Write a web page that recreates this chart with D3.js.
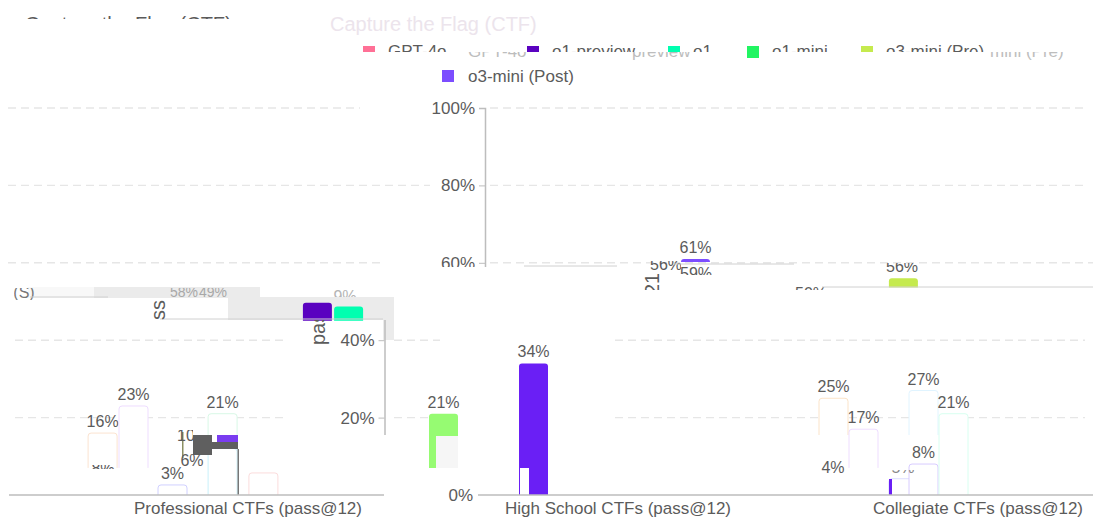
<!DOCTYPE html>
<html><head><meta charset="utf-8">
<script src="https://cdn.jsdelivr.net/npm/d3@7"></script>
<style>html,body{margin:0;padding:0;background:#fff}svg{display:block}text{font-family:"Liberation Sans",Arial,sans-serif}</style>
</head><body><svg id="c"></svg>
<script>
const categories = ["High School CTFs (pass@12)", "Collegiate CTFs (pass@12)", "Professional CTFs (pass@12)"];
const seriesNames = ["GPT-4o", "o1-preview", "o1", "o1-mini", "o3-mini (Pre)", "o3-mini (Post)"];
const seriesColors = ["#ff7096", "#5a02c0", "#00ffb0", "#21f562", "#c5ea4e", "#7c4dff"];
const ghostLegendText = ["GPT-4o", "preview", "mini (Pre)"];
const yTicks = [0, 20, 40, 60, 80, 100];
// solid bars: group index, slot inside the group, value, lowest visible value
const solidGroup = [0, 0, 0, 1, 2, 2];
const solidSlot  = [0, 3, 8.4, 3.33, 8.13, 9.17];
const solidValue = [21, 34, 61, 56, 49.7, 48.7];
const solidFloor = [7, 0, 60.2, 53.6, 45, 45];
const solidColor = ["#96fb72", "#6a1ff5", "#7c4dff", "#c5ea4e", "#5a02c0", "#00ffb0"];
const solidLabel = ["21%", "34%", "61%", "", "", ""];
// bars that survive only as a faint outline
const ghostGroup = [1, 1, 1, 1, 1, 1, 2, 2, 2, 2, 2, 2];
const ghostSlot  = [1, 2, 3.33, 4, 4, 5, 0.97, 2, 3.3, 4.97, 4.97, 6.33];
const ghostValue = [25, 17, 4.2, 27, 8, 21, 16, 23, 2.6, 21, 12, 5.7];
const ghostFloor = [15.5, 7, 0, 15.5, 0, 0, 7, 7, 0, 15.5, 0, 0];
const ghostColor = ["#fbe3c8", "#eeddff", "#dcdcff", "#e0f4ff", "#d8ccff", "#d8fff0", "#fbe3d0", "#eeddff", "#d0d0ff", "#d8f8e6", "#c8f0fa", "#fbdcdc"];
const ghostLabel = ["25%", "17%", "", "27%", "8%", "21%", "16%", "23%", "3%", "21%", "", ""];

const W = 1093, H = 518;
const svg = d3.select("#c").attr("width", W).attr("height", H);
const y = d3.scaleLinear().domain([0, 100]).range([495, 108]);
const groupX = d3.scalePoint().domain(categories).range([618, 1338]);
const slotX = d3.scaleLinear().domain([0, 1]).range([-189, -159]);
const barW = 29;
const wrap = v => v > W ? v - 1090 : v;
const barLeft = (g, s) => wrap(groupX(categories[g])) + slotX(s);
const TEXT = "#5b5b5b", AXIS = "#bdbdbd", GRID = "#e6e6e6";

function barPath(x0, v, floor) {
  const p = d3.path(), t = y(v), b = y(floor), r = 3;
  p.moveTo(x0, b); p.lineTo(x0, t + r); p.quadraticCurveTo(x0, t, x0 + r, t);
  p.lineTo(x0 + barW - r, t); p.quadraticCurveTo(x0 + barW, t, x0 + barW, t + r);
  p.lineTo(x0 + barW, b);
  return p.toString();
}
const defs = svg.append("defs");
let clipN = 0;
function clip(x, yy, w, h) {
  const id = "k" + (++clipN);
  defs.append("clipPath").attr("id", id).append("rect").attr("x", x).attr("y", yy).attr("width", w).attr("height", h);
  return `url(#${id})`;
}
function label(txt, x, yy, size, win, fill, anchor) {
  const t = svg.append("text").attr("x", x).attr("y", yy).attr("text-anchor", anchor || "middle")
    .attr("fill", fill || TEXT).style("font-size", size + "px").text(txt);
  if (win) t.attr("clip-path", clip(win[0], win[1], win[2], win[3]));
  return t;
}

// ---- grey wash behind fragments: [x, y, w, h, fill]
const washes = [
  [28, 287, 66, 11, "#f8f8f8"], [94, 287, 166, 11, "#ebebeb"], [228, 297, 166, 23, "#ebebeb"], [383, 319, 11, 21, "#ebebeb"]
];
washes.forEach(p => svg.append("rect").attr("x", p[0]).attr("y", p[1]).attr("width", p[2]).attr("height", p[3]).attr("fill", p[4]));

// ---- gridlines, broken into the pieces still visible
const gridSpans = {100: [[8, 360], [490, 1085]], 80: [[8, 430], [490, 1085]], 60: [[8, 385], [490, 1093]], 40: [[15, 285], [394, 440], [615, 1085]], 20: [[15, 285], [394, 455], [615, 1085]]};
yTicks.filter(t => t > 0).forEach(t => gridSpans[t].forEach(s => {
  svg.append("line").attr("x1", s[0]).attr("x2", s[1]).attr("y1", y(t)).attr("y2", y(t))
    .attr("stroke", GRID).attr("stroke-width", 1.4).attr("stroke-dasharray", "8 5");
}));

// ---- axes
function axisAt(x, ticks, win) {
  const g = svg.append("g").attr("clip-path", clip(win[0], win[1], win[2], win[3]))
    .append("g").attr("transform", `translate(${x},0)`)
    .call(d3.axisLeft(y).tickValues(ticks).tickFormat(d => d + "%").tickSize(6).tickPadding(4));
  g.selectAll("path.domain").attr("stroke", AXIS).attr("stroke-width", 1.5);
  g.selectAll(".tick line").attr("stroke", AXIS);
  g.selectAll("text").attr("fill", TEXT).style("font-size", "17px").style("font-family", '"Liberation Sans",Arial,sans-serif');
}
axisAt(485, [100, 80, 60], [0, 90, 1093, 177]);
axisAt(384.5, [40, 20], [0, 320, 1093, 115]);
axisAt(483, [0], [0, 480, 477, 30]);
categories.forEach(c => label(c, wrap(groupX(c)), y(0) + 19, 17));

// ---- outline bars
ghostValue.forEach((v, i) => {
  const x0 = barLeft(ghostGroup[i], ghostSlot[i]);
  svg.append("path").attr("d", barPath(x0, v, ghostFloor[i])).attr("fill", "#fff").attr("stroke", ghostColor[i]).attr("stroke-width", 1);
  if (ghostLabel[i]) label(ghostLabel[i], x0 + barW / 2, y(v) - 6, 16);
});
// ---- solid bars
solidValue.forEach((v, i) => {
  const x0 = barLeft(solidGroup[i], solidSlot[i]);
  svg.append("path").attr("d", barPath(x0, v, solidFloor[i])).attr("fill", solidColor[i]);
  if (solidLabel[i]) label(solidLabel[i], x0 + barW / 2, y(v) - 6, 16);
});

// ---- details of the damage: [x, y, w, h, fill]
const marks = [
  [436, 436, 22, 32, "#f6f6f6"], [520, 468, 9, 27, "#fff"],
  [889, 479, 3, 16, "#6a1ff5"], [193, 435, 19, 20, "#5f5f5f"], [212, 442, 26, 7, "#5f5f5f"],
  [217, 435, 21, 7, "#7a3cf0"], [237.5, 449, 1.5, 46, "#777"], [182, 432, 1.5, 26, "#8b8f62"]
];
marks.forEach(p => svg.append("rect").attr("x", p[0]).attr("y", p[1]).attr("width", p[2]).attr("height", p[3]).attr("fill", p[4]));

// ---- cut labels
label("56%", 902, 272, 16, [880, 263, 45, 12]);
label("59%", 696, 279, 16, [675, 265, 45, 10]);
label("56%", 666, 270, 16, [648, 261, 33, 12]);
label("50%", 811, 299, 16, [795, 285, 40, 5]);
label("58%", 184, 297, 14, [165, 288, 35, 10], "#a8a8a8");
label("49%", 213, 297, 14, [198, 288, 35, 10], "#a8a8a8");
label("9%", 345, 302, 16, [333, 290, 25, 7], "#b5b5b5");
label("(S)", 24, 298, 16, [14, 288, 22, 12], "#777");
label("4%", 833, 473, 16, [815, 461, 35, 14]);
label("5%", 903, 473, 16, [890, 470, 30, 5], "#888");
label("8%", 103, 474, 16, [85, 465, 35, 4]);
label("6%", 192, 466, 16);
label("10%", 193, 441, 16, [176, 430, 17, 16]);

// ---- baseline and stray axis lines
[[9, 384, y(0)], [478, 1093, y(0)], [30, 108, 297], [160, 383, 319], [524, 617, 266], [674, 794, 264], [822, 1093, 287]].forEach((s, i) =>
  svg.append("line").attr("x1", s[0]).attr("x2", s[1]).attr("y1", s[2]).attr("y2", s[2]).attr("stroke", i < 2 ? AXIS : "#d0d0d0").attr("stroke-width", i < 2 ? 1.5 : 1));

// ---- titles, cut by the damage
label("Capture the Flag (CTF)", 25, 31, 20, [0, 0, 325, 19], TEXT, "start");
label("Capture the Flag (CTF)", 330, 31, 20, [325, 12, 230, 26], "#ece4ec", "start");

// ---- legend
const legendSwatchX = [363, 527, 668, 747, 861];
const cutRow = clip(0, 40, 1093, 12);
const leg = svg.append("g").attr("clip-path", cutRow);
legendSwatchX.forEach((x, i) => {
  leg.append("rect").attr("x", x).attr("y", 46).attr("width", 12).attr("height", 12).attr("fill", seriesColors[i]);
  leg.append("text").attr("x", x + 25).attr("y", 57).attr("fill", TEXT).style("font-size", "17px").text(seriesNames[i]);
});
svg.append("rect").attr("x", 747).attr("y", 46).attr("width", 12).attr("height", 12).attr("fill", seriesColors[3]);
const cutGhost = clip(0, 52, 1093, 8);
const ghostLeg = svg.append("g").attr("clip-path", cutGhost);
[468, 632, 990].forEach((x, i) => ghostLeg.append("text").attr("x", x).attr("y", 57).attr("fill", "#bdbdbd").style("font-size", "17px").text(ghostLegendText[i]));
svg.append("rect").attr("x", 442).attr("y", 70).attr("width", 12).attr("height", 12).attr("fill", seriesColors[5]);
label(seriesNames[5], 468, 82, 17, null, TEXT, "start");

// ---- pieces of the rotated axis title: baseline x, start y, clip y, clip h, text
[[165, 320, 295, 25, "ss ("], [325, 345, 320, 25, "pass"], [659, 295, 274, 16, "21"]].forEach(f => {
  svg.append("g").attr("clip-path", clip(f[0] - 20, f[2], 30, f[3])).append("text")
    .attr("transform", `translate(${f[0]},${f[1]}) rotate(-90)`).attr("fill", TEXT)
    .style("font-size", "20px").text(f[4]);
});
</script></body></html>
